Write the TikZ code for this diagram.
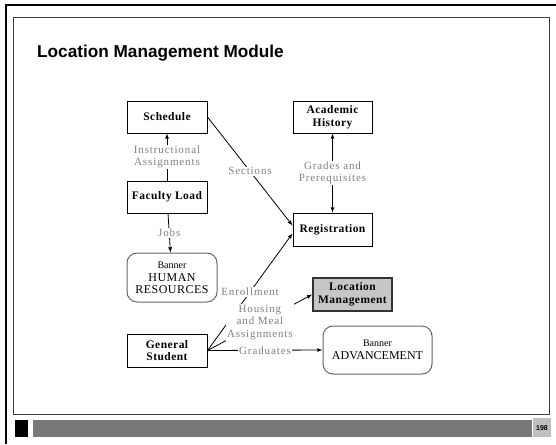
\documentclass[tikz,border=0pt]{standalone}
\usepackage{fontspec}
\setmainfont{Liberation Serif}
\newfontfamily\titlefont{Liberation Sans}
\newfontfamily\boxfont[LetterSpace=4]{Liberation Serif}
\newfontfamily\lblfont[LetterSpace=8]{Liberation Serif}
\usepackage{tikz}
\usetikzlibrary{positioning}

\begin{document}
\begin{tikzpicture}[x=1pt, y=-1pt, node distance=80pt, >=latex]
\tikzstyle{block} = [draw, rectangle, line width=1pt, minimum height=32pt, minimum width=80pt, inner sep=0pt, align=center, font=\boxfont\bfseries\fontsize{11.5}{12.5}\selectfont]
\tikzstyle{system} = [draw=black!60, rectangle, rounded corners=10pt, line width=1pt, inner sep=0pt, align=center]
\tikzstyle{lbl} = [fill=white, inner sep=1pt, align=center, text=black!50, font=\lblfont\fontsize{11}{12.5}\selectfont]
\tikzstyle{line} = [line width=0.8pt]

\useasboundingbox (0,0) rectangle (556,444);

% slide frame and footer
\draw[line width=2.5pt] (6,444) -- (6,5) -- (556,5);
\draw[black!75, line width=1pt] (13.5,18) rectangle (549,414);
\fill[black] (15,420) rectangle (28,437);
\fill[black!53] (33,420) rectangle (532,437);
\fill[black!25] (533,418) rectangle (551,437);
\node[font=\titlefont\bfseries\fontsize{7}{8}\selectfont] (page) at (542,428) {198};
\node[anchor=base west, inner sep=0pt, font=\titlefont\bfseries\fontsize{17.2}{20}\selectfont] (title) at (37,57) {Location Management Module};

% We start by placing the blocks
\node [block] (schedule) at (167,117) {Schedule};
\node [block, below of = schedule] (faculty) {Faculty Load};
\node [block, minimum width=79pt] (history) at (332.5,117) {Academic\\History};
\node [block, minimum width=79pt, minimum height=33pt, node distance=112.5pt, below of = history] (registration) {Registration};
\node [system, minimum width=90pt, minimum height=49pt] (hr) at (172,277.5) {{\fontsize{10}{11}\selectfont Banner}\\[1pt]{\boxfont\fontsize{12}{12.5}\selectfont HUMAN}\\{\boxfont\fontsize{12}{12.5}\selectfont RESOURCES}};
\node [block, minimum width=79pt, minimum height=33pt, line width=1.5pt, draw=black!80, fill=black!22] (location) at (352.5,294.5) {Location\\Management};
\node [block, minimum height=33pt] (student) at (167,350.5) {General\\Student};
\node [system, minimum width=109pt, minimum height=48pt] (advancement) at (377.5,350) {{\fontsize{10}{11}\selectfont Banner}\\[1pt]{\fontsize{12}{13}\selectfont ADVANCEMENT}};

% Once the nodes are placed, connecting them is easy.
\draw [line, ->] (faculty) -- node[lbl] {Instructional\\Assignments} (schedule);
\draw [line, ->] (schedule.east) -- node[lbl] {Sections} ([yshift=4pt]registration.west);
\draw [line, <->] (registration) -- node[lbl] {Grades and\\Prerequisites} (history);
\draw [line, ->] (faculty) -- node[lbl] {Jobs} (hr);
\draw [line, ->] (student.east) -- node[lbl] {Enrollment} ([yshift=-4pt]registration.west);
\draw [line, ->] (student.east) -- node[lbl] {Housing\\and Meal\\Assignments} (location.west);
\draw [line, ->] (student.east) -- node[lbl] {Graduates} (advancement.west);

\end{tikzpicture}
\end{document}
